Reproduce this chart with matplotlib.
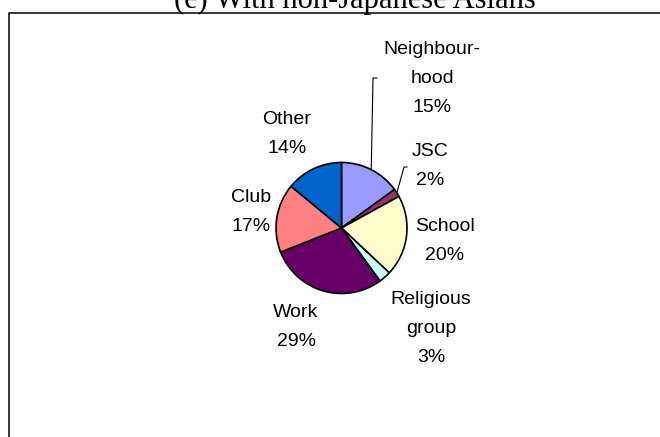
import numpy as np
import matplotlib.pyplot as plt
from matplotlib.lines import Line2D

# Datos: contactos con asiáticos no japoneses, por ámbito
categorias = ['Neighbour-\nhood', 'JSC', 'School', 'Religious\ngroup', 'Work', 'Club', 'Other']
porcentajes = [15, 2, 20, 3, 29, 17, 14]
colores = ['#9999FF', '#993366', '#FFFFCC', '#CCFFFF', '#660066', '#FF8080', '#0066CC']

W, H = 660, 437

def py(y):
    # coordenada vertical en píxeles medida desde arriba
    return H - y

fig = plt.figure(figsize=(W / 100, H / 100), dpi=100)
ax = fig.add_axes([0, 0, 1, 1])

centro = (341.5, py(228))
radio = 65.5

wedges, _ = ax.pie(porcentajes, colors=colores, startangle=90, counterclock=False,
                   center=centro, radius=radio, frame=True,
                   wedgeprops=dict(edgecolor='black', linewidth=1.2))

ax.set_xlim(0, W)
ax.set_ylim(0, H)
ax.axis('off')

# Posición de cada etiqueta: centro x, línea base de la primera fila (px desde arriba)
pos_etiquetas = [(432, 54), (430, 156), (445, 231), (431, 304), (296, 317), (251, 202), (287, 124)]
paso = 29

for cat, val, (x, y) in zip(categorias, porcentajes, pos_etiquetas):
    filas = cat.split('\n') + [f'{val}%']
    for i, fila in enumerate(filas):
        ax.text(x, py(y + i * paso), fila, ha='center', va='baseline',
                fontsize=14, family='Liberation Sans', color='black')

# Líneas guía para Neighbourhood y JSC
def borde(w):
    ang = np.deg2rad((w.theta1 + w.theta2) / 2)
    return centro[0] + radio * np.cos(ang), centro[1] + radio * np.sin(ang)

guias = [(0, (373, 78), (377, 78)), (1, (404, 167), (407, 167))]
for idx, (x1, y1), (x2, y2) in guias:
    bx, by = borde(wedges[idx])
    ax.add_line(Line2D([bx, x1, x2], [by, py(y1), py(y2)], color='black', lw=0.8))

# Marco del gráfico
ax.add_line(Line2D([8.5, 8.5, W], [0, py(12.5), py(12.5)], color='black', lw=1.1))

# Título (cortado en la parte superior)
ax.text(354.5, py(8), '(e) With non-Japanese Asians', ha='center', va='baseline',
        fontsize=22, family='Liberation Serif', color='black', clip_on=False)

plt.savefig('out.png', dpi=100)
